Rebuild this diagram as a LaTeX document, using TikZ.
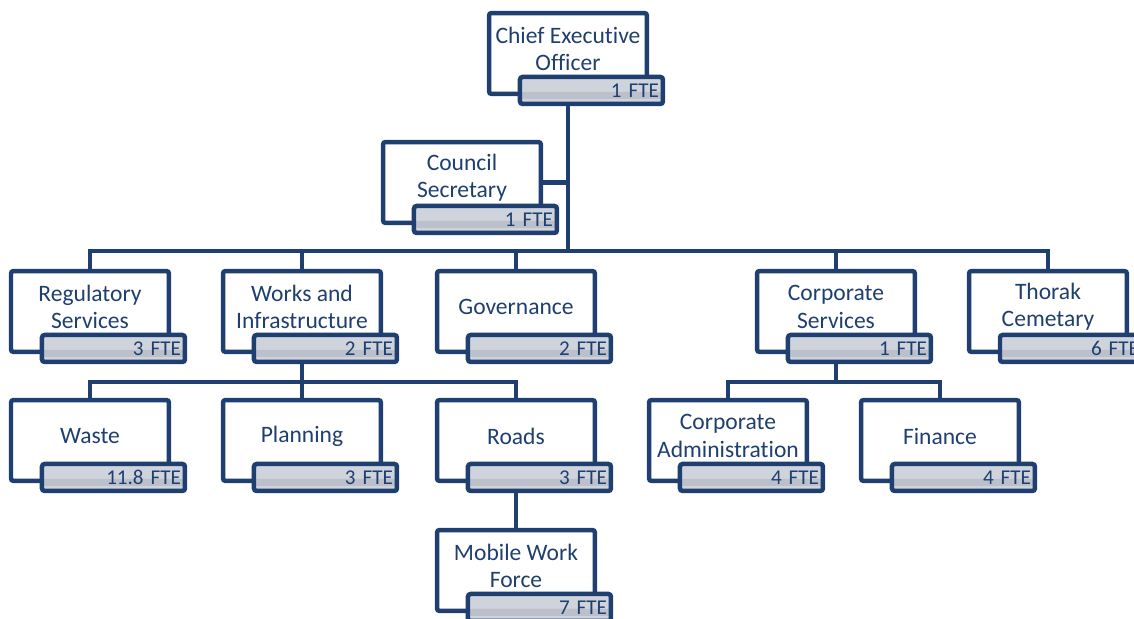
\documentclass[tikz,border=0pt]{standalone}
\usepackage{fontspec}
\setmainfont{Carlito}[Ligatures=NoCommon]
\usetikzlibrary{positioning}
\definecolor{navy}{RGB}{31,63,112}
\definecolor{barlight}{RGB}{207,211,220}
\definecolor{bardark}{RGB}{187,192,203}
\begin{document}
\begin{tikzpicture}[x=0.02cm, y=-0.02cm,
    unit/.style={draw=navy, line width=0.09cm, rounded corners=1.5pt, fill=white,
        outer sep=0pt, inner sep=0pt, minimum width=3.16cm, minimum height=1.62cm, anchor=north west},
    title/.style={text=navy, align=center, inner sep=0pt, font=\fontsize{13.4}{15.6}\selectfont},
    fte/.style={draw=navy, line width=0.09cm, rounded corners=1.5pt, fill=barlight,
        outer sep=0pt, inner sep=0pt, minimum width=2.86cm, minimum height=0.54cm, anchor=south east,
        text width=2.7cm, align=right, text=navy, font=\fontsize{12}{14}\selectfont,
        path picture={\fill[bardark] ([yshift=0.1cm]path picture bounding box.south west)
            rectangle ([yshift=0.24cm]path picture bounding box.south east);}},
    link/.style={draw=navy, line width=0.09cm}]
    \useasboundingbox (0,0) rectangle (1134,619);

    % Draw nodes
    \node[unit] (ceo) at (489,13) {};
    \node[unit] (sec) at (383,142) {};
    \node[unit] (reg) at (11,271) {};
    \node[unit] (works) at (223,271) {};
    \node[unit] (gov) at (437,271) {};
    \node[unit] (corp) at (757,271) {};
    \node[unit] (thor) at (969,271) {};
    \node[unit] (waste) at (11,400) {};
    \node[unit] (plan) at (223,400) {};
    \node[unit] (roads) at (437,400) {};
    \node[unit] (admin) at (649,400) {};
    \node[unit] (fin) at (861,400) {};
    \node[unit] (mobile) at (437,530) {};

    % Draw titles
    \node[title] (ceo-t) at ([yshift=0.09cm]ceo.center) {Chief Executive\\Officer};
    \node[title] (sec-t) at ([yshift=0.09cm]sec.center) {Council\\Secretary};
    \node[title] (reg-t) at ([yshift=0.09cm]reg.center) {Regulatory\\Services};
    \node[title] (works-t) at ([yshift=0.09cm]works.center) {Works and\\Infrastructure};
    \node[title] (gov-t) at ([yshift=0.09cm]gov.center) {Governance};
    \node[title] (corp-t) at ([yshift=0.09cm]corp.center) {Corporate\\Services};
    \node[title] (thor-t) at ([yshift=0.09cm]thor.center) {Thorak\\Cemetary};
    \node[title] (waste-t) at ([yshift=0.09cm]waste.center) {Waste};
    \node[title] (plan-t) at ([yshift=0.09cm]plan.center) {Planning};
    \node[title] (roads-t) at ([yshift=0.09cm]roads.center) {Roads};
    \node[title] (admin-t) at ([yshift=0.09cm]admin.center) {Corporate\\Administration};
    \node[title] (fin-t) at ([yshift=0.09cm]fin.center) {Finance};
    \node[title] (mobile-t) at ([yshift=0.09cm]mobile.center) {Mobile Work\\Force};

    % Draw FTE bars
    \node[fte] (ceo-f) at ([xshift=0.32cm, yshift=-0.2cm]ceo.south east) {1 FTE};
    \node[fte] (sec-f) at ([xshift=0.32cm, yshift=-0.2cm]sec.south east) {1 FTE};
    \node[fte] (reg-f) at ([xshift=0.32cm, yshift=-0.2cm]reg.south east) {3 FTE};
    \node[fte] (works-f) at ([xshift=0.32cm, yshift=-0.2cm]works.south east) {2 FTE};
    \node[fte] (gov-f) at ([xshift=0.32cm, yshift=-0.2cm]gov.south east) {2 FTE};
    \node[fte] (corp-f) at ([xshift=0.32cm, yshift=-0.2cm]corp.south east) {1 FTE};
    \node[fte] (thor-f) at ([xshift=0.32cm, yshift=-0.2cm]thor.south east) {6 FTE};
    \node[fte] (waste-f) at ([xshift=0.32cm, yshift=-0.2cm]waste.south east) {11.8 FTE};
    \node[fte] (plan-f) at ([xshift=0.32cm, yshift=-0.2cm]plan.south east) {3 FTE};
    \node[fte] (roads-f) at ([xshift=0.32cm, yshift=-0.2cm]roads.south east) {3 FTE};
    \node[fte] (admin-f) at ([xshift=0.32cm, yshift=-0.2cm]admin.south east) {4 FTE};
    \node[fte] (fin-f) at ([xshift=0.32cm, yshift=-0.2cm]fin.south east) {4 FTE};
    \node[fte] (mobile-f) at ([xshift=0.32cm, yshift=-0.2cm]mobile.south east) {7 FTE};

    % Draw edges
    \coordinate (bus1) at (0,251);
    \coordinate (bus2) at (0,382);
    \draw[link] (ceo.south |- ceo-f.south) -- (ceo.south |- bus1);
    \draw[link] (sec.east) -- (sec.east -| ceo.south);
    \draw[link] (reg.north) -- (reg.north |- bus1) -- (thor.north |- bus1) -- (thor.north);
    \foreach \n in {works, gov, corp}
        \draw[link] (\n.north) -- (\n.north |- bus1);
    \draw[link] (works.south |- works-f.south) -- (works.south |- bus2);
    \draw[link] (waste.north) -- (waste.north |- bus2) -- (roads.north |- bus2) -- (roads.north);
    \draw[link] (plan.north) -- (plan.north |- bus2);
    \draw[link] (corp.south |- corp-f.south) -- (corp.south |- bus2);
    \draw[link] (admin.north) -- (admin.north |- bus2) -- (fin.north |- bus2) -- (fin.north);
    \draw[link] (roads.south |- roads-f.south) -- (mobile.north);
\end{tikzpicture}
\end{document}
